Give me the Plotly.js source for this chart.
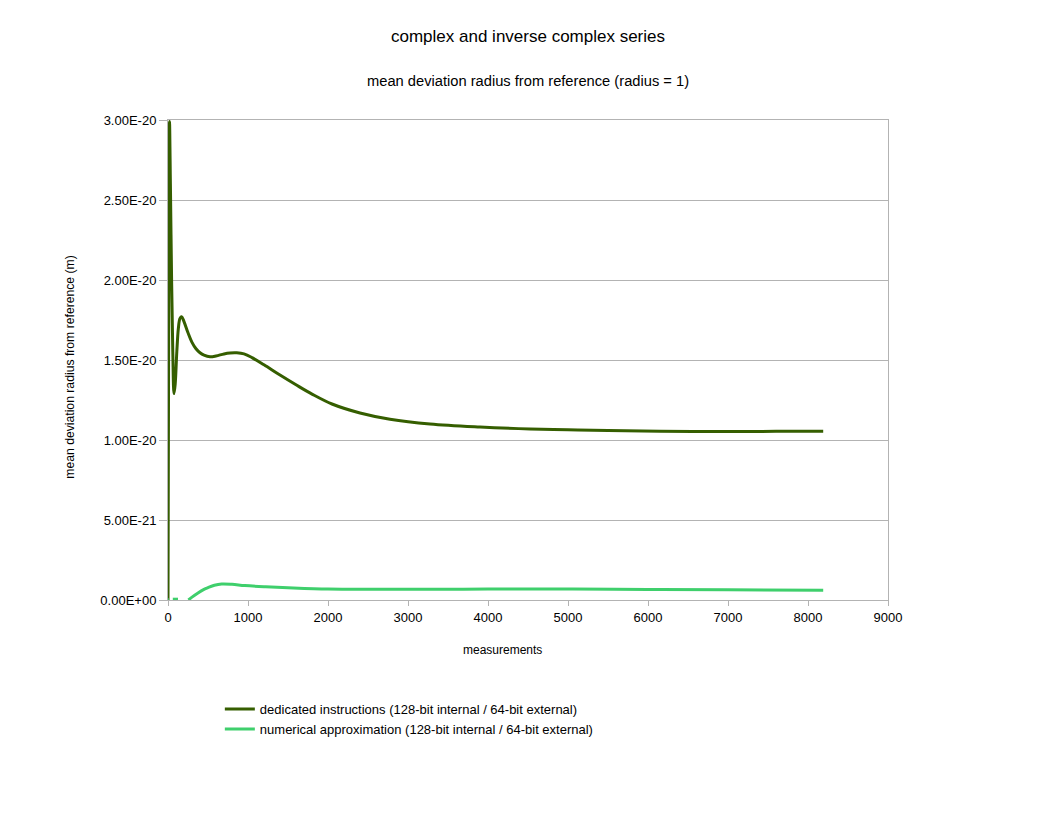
<!DOCTYPE html>
<html>
<head>
<meta charset="utf-8">
<script src="https://cdn.plot.ly/plotly-3.0.1.min.js"></script>
<style>
  body { margin: 0; background: #fff; }
  #chart { width: 1056px; height: 816px; }
</style>
</head>
<body>
<div id="chart"></div>
<script>
// values (y in 1e-20 units for the dark series, 1e-21 for the light one)
var dedicatedX = [0, 8, 14, 19, 30, 45, 60, 75, 90, 110, 130, 150, 171, 200, 250, 300, 350, 400, 450, 525, 600, 700, 775, 860, 950, 1050, 1200, 1400, 1600, 1800, 2050, 2400, 2775, 3275, 3900, 4525, 5000, 5500, 6150, 7000, 7600, 8190];
var dedicatedY = [0, 1.6, 2.7, 2.99, 2.6, 2.0, 1.55, 1.29, 1.35, 1.55, 1.7, 1.76, 1.77, 1.74, 1.67, 1.61, 1.57, 1.545, 1.53, 1.52, 1.525, 1.538, 1.544, 1.545, 1.538, 1.515, 1.47, 1.406, 1.345, 1.287, 1.225, 1.169, 1.13, 1.10, 1.081, 1.069, 1.064, 1.059, 1.055, 1.053, 1.054, 1.054];

var numericalX = [0, 10, 20, 60, 90, 125, 150, 255, 300, 375, 450, 500, 580, 670, 800, 960, 1200, 1500, 2000, 2500, 3000, 4000, 5060, 6000, 7000, 8190];
var numericalY = [0.02, 0.02, null, 0.05, 0.05, 0.05, null, 0, 0.18, 0.44, 0.66, 0.77, 0.92, 1.0, 0.98, 0.9, 0.83, 0.77, 0.69, 0.67, 0.67, 0.68, 0.69, 0.66, 0.64, 0.61];

var seriesNames = [
  'dedicated instructions (128-bit internal / 64-bit external)',
  'numerical approximation (128-bit internal / 64-bit external)'
];
var tickVals = [0, 5e-21, 1e-20, 1.5e-20, 2e-20, 2.5e-20, 3e-20];
var tickText = ['0.00E+00', '5.00E-21', '1.00E-20', '1.50E-20', '2.00E-20', '2.50E-20', '3.00E-20'];
var xTicks = [0, 1000, 2000, 3000, 4000, 5000, 6000, 7000, 8000, 9000];

var font = 'Liberation Sans, Arial, sans-serif';

var traces = [
  {
    x: dedicatedX,
    y: dedicatedY.map(function (v) { return v * 1e-20; }),
    name: seriesNames[0],
    mode: 'lines',
    line: { color: '#355e00', width: 3, shape: 'spline', smoothing: 1 }
  },
  {
    x: numericalX,
    y: numericalY.map(function (v) { return v === null ? null : v * 1e-21; }),
    name: seriesNames[1],
    mode: 'lines',
    connectgaps: false,
    line: { color: '#3fcf6c', width: 3, shape: 'spline', smoothing: 1 }
  }
];

var layout = {
  width: 1056,
  height: 816,
  margin: { l: 168, r: 168, t: 120, b: 216 },
  paper_bgcolor: '#fff',
  plot_bgcolor: '#fff',
  font: { family: font, size: 12, color: '#000' },
  showlegend: true,
  legend: {
    x: 0.072, y: -0.196, xanchor: 'left', yanchor: 'top',
    font: { family: font, size: 13, color: '#000' },
    tracegroupgap: 0
  },
  xaxis: {
    range: [0, 9000],
    tickvals: xTicks,
    ticks: 'outside', ticklen: 5, tickcolor: '#b3b3b3',
    showgrid: false, zeroline: false,
    showline: true, mirror: true, linecolor: '#b3b3b3', linewidth: 1,
    tickfont: { family: font, size: 13 }
  },
  yaxis: {
    range: [0, 3e-20],
    tickvals: tickVals,
    ticktext: tickText,
    ticks: 'outside', ticklen: 8, tickcolor: '#b3b3b3',
    showgrid: true, gridcolor: '#b3b3b3', gridwidth: 1,
    zeroline: false,
    showline: true, mirror: true, linecolor: '#b3b3b3', linewidth: 1,
    tickfont: { family: font, size: 13 }
  },
  annotations: [
    {
      text: 'complex and inverse complex series',
      xref: 'paper', yref: 'paper', x: 0.5, y: 1, xanchor: 'center', yanchor: 'middle',
      yshift: 84, showarrow: false, font: { family: font, size: 17, color: '#000' }
    },
    {
      text: 'mean deviation radius from reference (radius = 1)',
      xref: 'paper', yref: 'paper', x: 0.5, y: 1, xanchor: 'center', yanchor: 'middle',
      yshift: 39, showarrow: false, font: { family: font, size: 14.7, color: '#000' }
    },
    {
      text: 'measurements',
      xref: 'paper', yref: 'paper', x: 0.4639, y: -0.104, xanchor: 'center', yanchor: 'middle',
      showarrow: false, font: { family: font, size: 12, color: '#000' }
    },
    {
      text: 'mean deviation radius from reference (m)',
      xref: 'paper', yref: 'paper', x: -0.1361, y: 0.486, xanchor: 'center', yanchor: 'middle',
      textangle: -90, showarrow: false, font: { family: font, size: 12.2, color: '#000' }
    }
  ]
};

Plotly.newPlot('chart', traces, layout, { staticPlot: true });
</script>
</body>
</html>
